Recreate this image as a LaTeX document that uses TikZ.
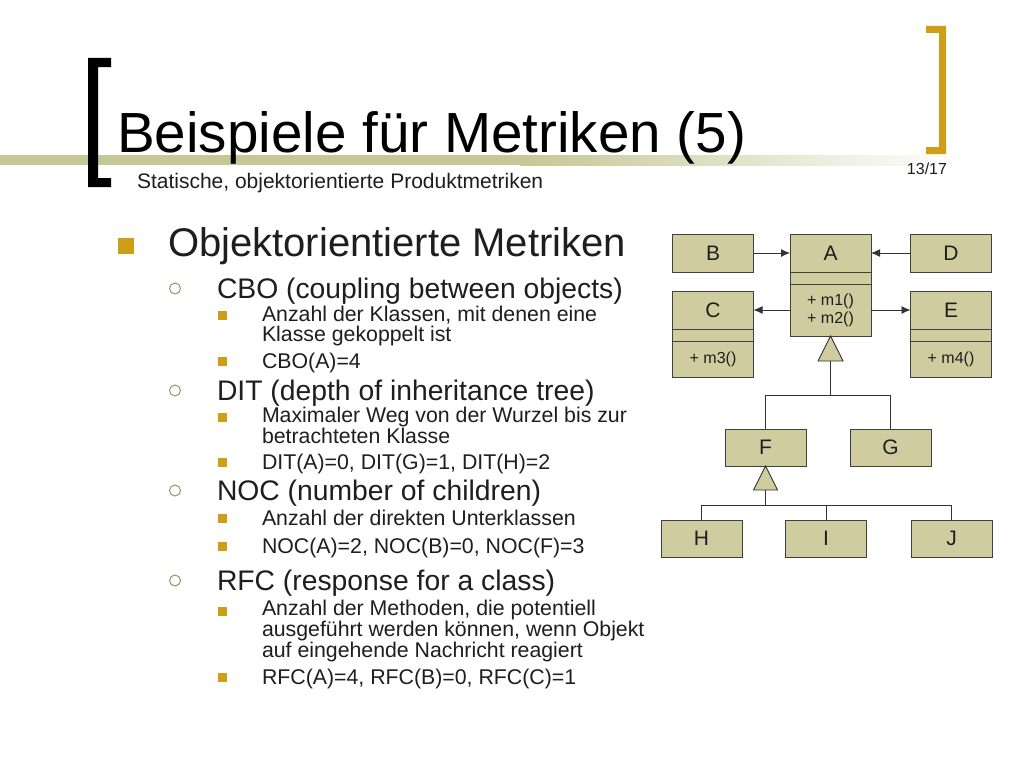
\documentclass[tikz,border=0pt]{standalone}
\usepackage{fontspec}
\setmainfont{Liberation Sans}
\usepackage{tikz}
\usetikzlibrary{positioning}
\usetikzlibrary{arrows.meta}
\usetikzlibrary{calc}

\definecolor{umlfill}{RGB}{207,205,160}
\definecolor{bargreen}{RGB}{198,198,150}
\definecolor{gold}{RGB}{206,158,22}
\definecolor{ringcol}{RGB}{150,150,100}
\definecolor{txt}{RGB}{30,30,30}
\newcommand{\pxfont}[1]{\fontsize{#1}{#1}\selectfont}

\begin{document}
\begin{tikzpicture}[x=1pt,y=-1pt,every node/.style={inner sep=0pt,outer sep=0pt}]
	
	\tikzstyle{cls}=[rectangle,draw=black!75,fill=umlfill,line width=0.9pt,minimum width=81pt,minimum height=38pt,text=txt,font=\pxfont{21}]
	\tikzstyle{cls part}=[cls,minimum height=12pt]
	\tikzstyle{ops}=[cls,font=\fontsize{16}{18}\selectfont,align=center]
	\tikzstyle{big bullet}=[rectangle,fill=gold,minimum size=16pt]
	\tikzstyle{ring}=[circle,draw=ringcol,line width=1pt,minimum size=11pt]
	\tikzstyle{small bullet}=[rectangle,fill=gold,minimum size=9pt]
	\tikzstyle{lone}=[anchor=base west,font=\pxfont{40},text=txt]
	\tikzstyle{ltwo}=[anchor=base west,font=\pxfont{28.3},text=txt]
	\tikzstyle{lthree}=[anchor=base west,font=\fontsize{21.3}{19.8}\selectfont,text=txt,align=left]
	\tikzstyle{link}=[draw=black!80,line width=0.9pt]
	\tikzstyle{uses}=[link,-{Latex[length=9pt,width=8pt]}]
	\tikzstyle{inherit}=[link,fill=umlfill]
	
	\useasboundingbox (0,0) rectangle (1024,768);
	\fill[white] (0,0) rectangle (1024,768);
	
	% title bar and brackets
	\fill[bargreen] (0,155) rectangle (520,165);
	\shade[left color=bargreen,right color=white] (520,155) rectangle (960,165);
	\fill[black] (111,58) -- (88,58) -- (88,187) -- (111,187) -- (111,178) -- (98,178) -- (98,67) -- (111,67) -- cycle;
	\fill[gold] (926,26) -- (946,26) -- (946,154) -- (926,154) -- (926,147) -- (939,147) -- (939,33) -- (926,33) -- cycle;
	\node[anchor=base west,font=\pxfont{56.6},text=black] (title) at (117,152) {Beispiele für Metriken (5)};
	\node[anchor=base west,font=\pxfont{21},text=txt] (subtitle) at (137,188) {Statische, objektorientierte Produktmetriken};
	\node[font=\pxfont{16},text=txt] (page) at (927,169) {13/17};
	
	% bullet list (base of a wrapped item = its last line)
	\node[big bullet] (b1) at (126,246) {};
	\node[lone] (oom) at (168,256) {Objektorientierte Metriken};
	
	\node[ring] (r1) at (175,288.5) {};
	\node[ltwo] (cbo) at (217,298) {CBO (coupling between objects)};
	\node[small bullet] (s1) at (222,315) {};
	\node[lthree] (cbo1) at (262,341.5) {Anzahl der Klassen, mit denen eine\\Klasse gekoppelt ist};
	\node[small bullet] (s2) at (222,361) {};
	\node[lthree] (cbo2) at (262,368) {CBO(A)=4};
	
	\node[ring] (r2) at (175,390.5) {};
	\node[ltwo] (dit) at (217,400) {DIT (depth of inheritance tree)};
	\node[small bullet] (s3) at (222,417) {};
	\node[lthree] (dit1) at (262,443.5) {Maximaler Weg von der Wurzel bis zur\\betrachteten Klasse};
	\node[small bullet] (s4) at (222,462) {};
	\node[lthree] (dit2) at (262,469) {DIT(A)=0, DIT(G)=1, DIT(H)=2};
	
	\node[ring] (r3) at (175,490.5) {};
	\node[ltwo] (noc) at (217,500) {NOC (number of children)};
	\node[small bullet] (s5) at (222,518) {};
	\node[lthree] (noc1) at (262,525) {Anzahl der direkten Unterklassen};
	\node[small bullet] (s6) at (222,546) {};
	\node[lthree] (noc2) at (262,553) {NOC(A)=2, NOC(B)=0, NOC(F)=3};
	
	\node[ring] (r4) at (175,580.5) {};
	\node[ltwo] (rfc) at (217,590) {RFC (response for a class)};
	\node[small bullet] (s7) at (222,611) {};
	\node[lthree] (rfc1) at (262,657.5) {Anzahl der Methoden, die potentiell\\ausgeführt werden können, wenn Objekt\\auf eingehende Nachricht reagiert};
	\node[small bullet] (s8) at (222,677) {};
	\node[lthree] (rfc2) at (262,684) {RFC(A)=4, RFC(B)=0, RFC(C)=1};
	
	% class diagram
	\node[cls] (A) at (830.5,253) {A};
	\node[cls part] (Aattr) [below=0pt of A] {};
	\node[ops,minimum height=52pt] (Aops) [below=0pt of Aattr] {+ m1()\\+ m2()};
	\node[cls] (B) [on grid,left=117.5pt of A] {B};
	\node[cls] (D) [on grid,right=120.5pt of A] {D};
	\node[cls] (C) [on grid,below=57pt of B] {C};
	\node[cls part] (Cattr) [below=0pt of C] {};
	\node[ops,minimum height=36pt] (Cops) [below=0pt of Cattr] {+ m3()};
	\node[cls] (E) [on grid,below=57pt of D] {E};
	\node[cls part] (Eattr) [below=0pt of E] {};
	\node[ops,minimum height=36pt] (Eops) [below=0pt of Eattr] {+ m4()};
	
	\draw[uses] (B) -- (A);
	\draw[uses] (D) -- (A);
	\draw[uses] (Aops) -- (C);
	\draw[uses] (Aops) -- (E);
	
	\node[cls,minimum height=37pt] (F) at (765.5,447.5) {F};
	\node[cls,minimum height=37pt] (G) [on grid,right=125pt of F] {G};
	\node[cls,minimum height=37pt] (H) [on grid,below left=91pt and 64pt of F] {H};
	\node[cls,minimum height=37pt] (I) [on grid,right=124.5pt of H] {I};
	\node[cls,minimum height=37pt] (J) [on grid,right=125.5pt of I] {J};
	
	\coordinate (Abase) at ($(Aops.south)+(0,25)$);
	\coordinate (Ajoin) at ($(Aops.south)+(0,59)$);
	\draw[inherit] (Aops.south) -- ++(12.5,25) -- ++(-25,0) -- cycle;
	\draw[link] (Abase) -- (Ajoin);
	\draw[link] (Ajoin) -| (F);
	\draw[link] (Ajoin) -| (G);
	
	\coordinate (Fbase) at ($(F.south)+(0,24)$);
	\coordinate (Fjoin) at ($(F.south)+(0,39)$);
	\draw[inherit] (F.south) -- ++(12,24) -- ++(-24,0) -- cycle;
	\draw[link] (Fbase) -- (Fjoin);
	\draw[link] (Fjoin) -| (H);
	\draw[link] (Fjoin) -| (I);
	\draw[link] (Fjoin) -| (J);
	
\end{tikzpicture}
\end{document}
